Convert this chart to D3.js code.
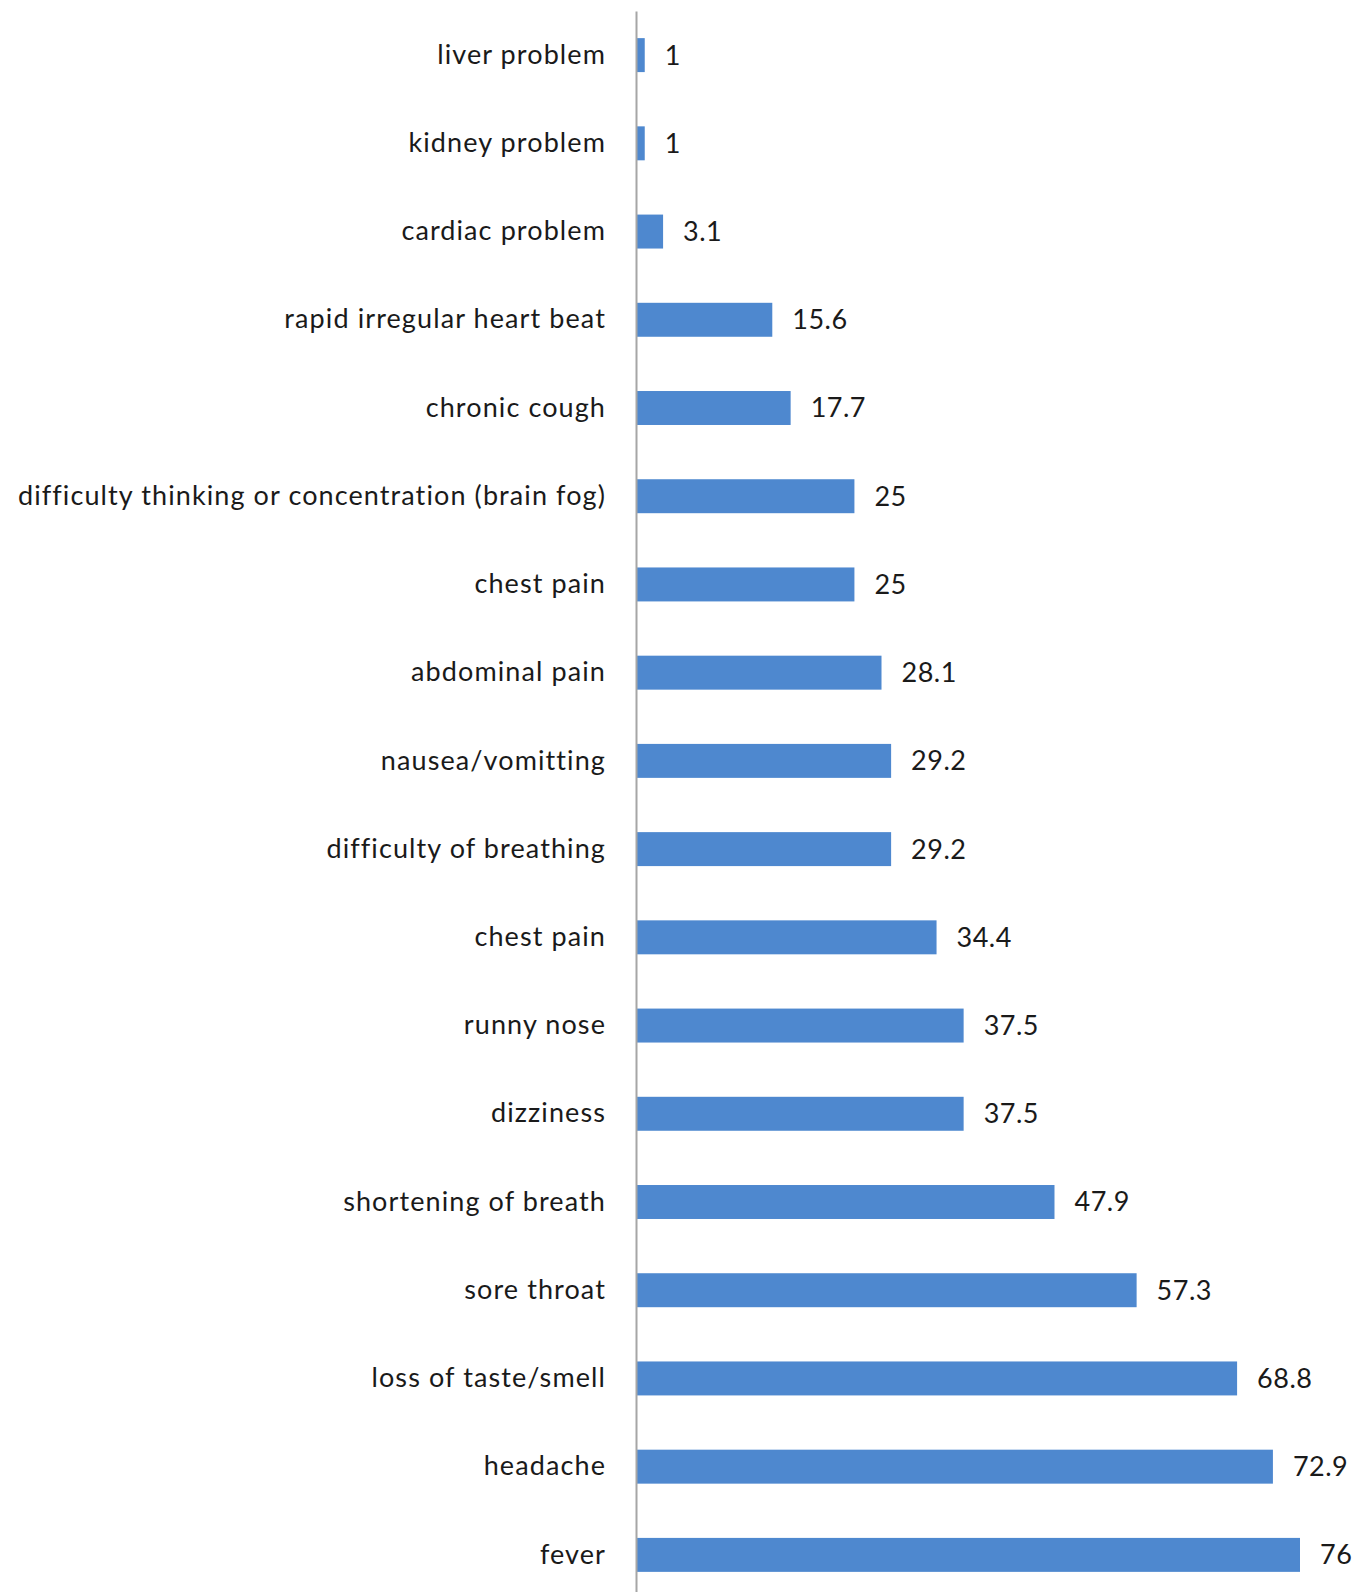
<!DOCTYPE html>
<html>
<head>
<meta charset="utf-8">
<script src="https://cdn.jsdelivr.net/npm/d3@7"></script>
<style>
  body { margin: 0; background: #fff; }
  svg { display: block; }
</style>
</head>
<body>
<svg id="chart" width="1368" height="1592"></svg>
<script>
const categories = [
  "liver problem", "kidney problem", "cardiac problem", "rapid irregular heart beat",
  "chronic cough", "difficulty thinking or concentration (brain fog)", "chest pain",
  "abdominal pain", "nausea/vomitting", "difficulty of breathing", "chest pain",
  "runny nose", "dizziness", "shortening of breath", "sore throat",
  "loss of taste/smell", "headache", "fever"
];
const values = [1, 1, 3.1, 15.6, 17.7, 25, 25, 28.1, 29.2, 29.2, 34.4, 37.5, 37.5, 47.9, 57.3, 68.8, 72.9, 76];

const svg = d3.select("#chart");
const font = "Lato, 'Open Sans', sans-serif";

const x = d3.scaleLinear()
  .domain([0, 76])
  .range([636, 1300]);

const y = d3.scaleBand()
  .domain(d3.range(categories.length))
  .range([11, 1599])
  .paddingInner(0.615)
  .paddingOuter(0.3075);

// bars
svg.append("g")
  .selectAll("rect")
  .data(values)
  .enter().append("rect")
    .attr("x", x(0))
    .attr("y", function(d, i) { return y(i); })
    .attr("width", function(d) { return x(d) - x(0); })
    .attr("height", y.bandwidth())
    .attr("fill", "#4e88cf");

// value labels
svg.append("g")
  .selectAll("text")
  .data(values)
  .enter().append("text")
    .attr("x", function(d) { return x(d) + 20; })
    .attr("y", function(d, i) { return y(i) + y.bandwidth() / 2; })
    .attr("dy", "0.35em")
    .attr("font-family", font)
    .attr("font-size", 27)
    .attr("letter-spacing", 0.5)
    .attr("fill", "#1a1a1a")
    .text(function(d) { return d; });

// category axis
const axis = svg.append("g")
  .attr("transform", `translate(${x(0)},0)`)
  .call(d3.axisLeft(y)
    .tickSize(0)
    .tickPadding(30)
    .tickFormat(function(i) { return categories[i]; }));

axis.select(".domain")
  .attr("stroke", "#a6a6a6")
  .attr("stroke-width", 2);

axis.selectAll("text")
  .attr("font-family", font)
  .attr("font-size", 27)
  .attr("letter-spacing", 1.1)
  .attr("fill", "#1a1a1a");
</script>
</body>
</html>
